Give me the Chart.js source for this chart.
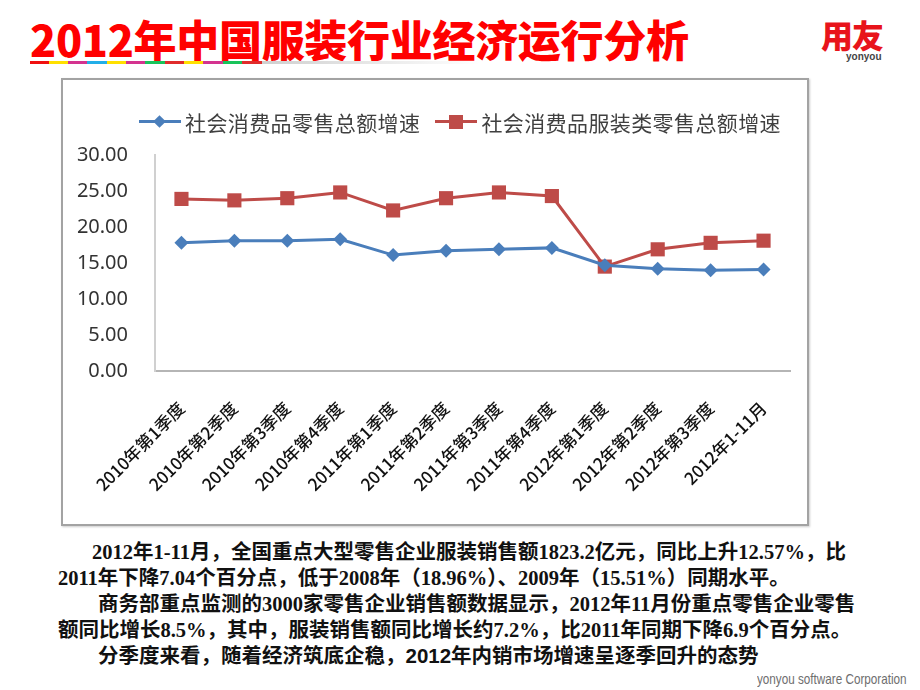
<!DOCTYPE html>
<html>
<head>
<meta charset="utf-8">
<script src="https://cdn.jsdelivr.net/npm/chart.js@4.4.1/dist/chart.umd.min.js"></script>
<style>
  html, body { margin: 0; padding: 0; background: #fff; }
  #page { position: relative; width: 920px; height: 690px; overflow: hidden; background: #fff; }
  #title { position: absolute; left: 30px; top: 17px; font: 900 43px/43px "Noto Sans CJK SC", sans-serif; color: #ff0000; white-space: nowrap; letter-spacing: -0.3px; }
  #stripe { position: absolute; left: 30px; top: 61px; height: 3px; width: 450px;
    background: linear-gradient(to right,
      #f01010 0 19px, #ffe000 19px 38px, #d4338f 38px 57px, #22aee8 57px 77px, #ffe000 77px 96px,
      #d4338f 96px 115px, #18c35a 115px 135px, #e02b2b 135px 154px, #ffe000 154px 173px,
      #d4338f 173px 193px, #18c35a 193px 212px, #e02b2b 212px 232px, #cfcfcf 232px, #ffffff 450px); }
  #logo { position: absolute; left: 821px; top: 18px; font: 900 32px/32px "Noto Sans CJK SC", sans-serif; color: #e8141b; letter-spacing: -1px; }
  #logo2 { position: absolute; left: 846px; top: 51px; font: bold 10px/12px "Liberation Sans", sans-serif; color: #444; }
  #box { position: absolute; left: 61px; top: 78px; width: 748px; height: 448px; box-sizing: border-box;
    border: 2px solid #a3a3a3; box-shadow: 1px 1px 2px #ccc; background: #fff; }
  #chartWrap { position: absolute; left: 0; top: 0; width: 744px; height: 444px; }
  #legend { position: absolute; left: 76px; top: 30px; display: flex; align-items: center; font: 21px/24px "Noto Sans CJK SC", sans-serif; letter-spacing: 0.4px; color: #404040; white-space: nowrap; }
  .item { display: flex; align-items: center; margin-right: 15px; }
  .mk { position: relative; width: 42px; height: 16px; margin-right: 4px; }
  .mk .ln { position: absolute; left: 0; right: 0; top: 6px; height: 3px; }
  .mk .pt { position: absolute; }
  .note { position: absolute; font: bold 20.5px/24px "Liberation Serif", "Noto Sans CJK SC", serif; color: #111; white-space: nowrap; }
  #corp { position: absolute; left: 757px; top: 670px; font: 15px/18px "Liberation Sans", sans-serif; color: #6e6e6e; white-space: nowrap;
    transform: scaleX(0.78); transform-origin: left top; }
</style>
</head>
<body>
<div id="page">
  <div id="title">2012年中国服装行业经济运行分析</div>
  <div id="stripe"></div>
  <div id="logo">用友</div>
  <div id="logo2">yonyou</div>

  <div id="box">
    <div id="chartWrap"><canvas id="chart"></canvas></div>
    <div id="legend"></div>
  </div>

  <div class="note" style="left:92px; top:540px;">2012年1-11月，全国重点大型零售企业服装销售额1823.2亿元，同比上升12.57%，比</div>
  <div class="note" style="left:58px; top:566px;">2011年下降7.04个百分点，低于2008年（18.96%）、2009年（15.51%）同期水平。</div>
  <div class="note" style="left:98px; top:592px;">商务部重点监测的3000家零售企业销售额数据显示，2012年11月份重点零售企业零售</div>
  <div class="note" style="left:58px; top:618px;">额同比增长8.5%，其中，服装销售额同比增长约7.2%，比2011年同期下降6.9个百分点。</div>
  <div class="note" style="left:98px; top:644px;">分季度来看，随着经济筑底企稳，<span style="font-family:'Liberation Sans',sans-serif">2012</span>年内销市场增速呈逐季回升的态势</div>
  <div id="corp">yonyou software Corporation</div>
</div>

<script>
// Quarters on the x axis
const categories = [
    '2010年第1季度', '2010年第2季度', '2010年第3季度', '2010年第4季度',
    '2011年第1季度', '2011年第2季度', '2011年第3季度', '2011年第4季度',
    '2012年第1季度', '2012年第2季度', '2012年第3季度', '2012年1-11月'
];

const seriesNames = ['社会消费品零售总额增速', '社会消费品服装类零售总额增速'];

// Growth rates (%)
const retailTotal = [17.8, 18.1, 18.1, 18.3, 16.1, 16.7, 16.9, 17.1, 14.7, 14.2, 14.0, 14.1];
const apparelTotal = [23.9, 23.7, 24.0, 24.8, 22.3, 24.0, 24.8, 24.3, 14.5, 16.9, 17.8, 18.1];

const yTicks = [0, 5, 10, 15, 20, 25, 30];

const blue = '#4a7ebb';
const red = '#be4b48';

// Build the legend as html (line + marker + text)
function buildLegend() {
    const legend = document.getElementById('legend');
    const styles = [
        { color: blue, marker: 'width:9px;height:9px;left:16px;top:3px;transform:rotate(45deg);' },
        { color: red, marker: 'width:14px;height:14px;left:14px;top:1px;' }
    ];
    seriesNames.forEach((name, i) => {
        const item = document.createElement('div');
        item.className = 'item';
        item.innerHTML =
            `<span class="mk"><span class="ln" style="background:${styles[i].color}"></span>` +
            `<span class="pt" style="background:${styles[i].color};${styles[i].marker}"></span></span>` +
            `<span>${name}</span>`;
        legend.appendChild(item);
    });
}

buildLegend();

const ctx = document.getElementById('chart').getContext('2d');

new Chart(ctx, {
    type: 'line',
    data: {
        labels: categories,
        datasets: [
            {
                label: seriesNames[0],
                data: retailTotal,
                borderColor: blue,
                backgroundColor: blue,
                borderWidth: 3,
                pointStyle: 'rectRot',
                pointRadius: 7,
                pointBorderWidth: 0,
                tension: 0
            },
            {
                label: seriesNames[1],
                data: apparelTotal,
                borderColor: red,
                backgroundColor: red,
                borderWidth: 3,
                pointStyle: 'rect',
                pointRadius: 10,
                pointBorderWidth: 0,
                tension: 0
            }
        ]
    },
    options: {
        responsive: true,
        maintainAspectRatio: false,
        animation: false,
        layout: {
            padding: { left: 8, right: 17, top: 75, bottom: 0 }
        },
        plugins: {
            legend: { display: false },
            tooltip: { enabled: false }
        },
        scales: {
            x: {
                offset: true,
                grid: { display: false, drawTicks: false },
                border: { display: true, color: '#b5b5b5', width: 2 },
                ticks: {
                    autoSkip: false,
                    maxRotation: 45,
                    minRotation: 45,
                    padding: 27,
                    color: '#111',
                    font: { family: '"Noto Sans CJK SC", sans-serif', size: 17, weight: '500' }
                },
                afterFit: function(scale) {
                    scale.height = 153;
                }
            },
            y: {
                min: 0,
                max: 30,
                afterBuildTicks: function(scale) {
                    scale.ticks = yTicks.map(v => ({ value: v }));
                },
                grid: { display: false, drawTicks: false },
                border: { display: true, color: '#d0d0d0', width: 2 },
                ticks: {
                    padding: 27,
                    color: '#333',
                    font: { family: '"Noto Sans", sans-serif', size: 20 },
                    callback: function(value) {
                        return Number(value).toFixed(2);
                    }
                },
                afterFit: function(scale) {
                    scale.width = 84;
                }
            }
        }
    }
});
</script>
</body>
</html>
